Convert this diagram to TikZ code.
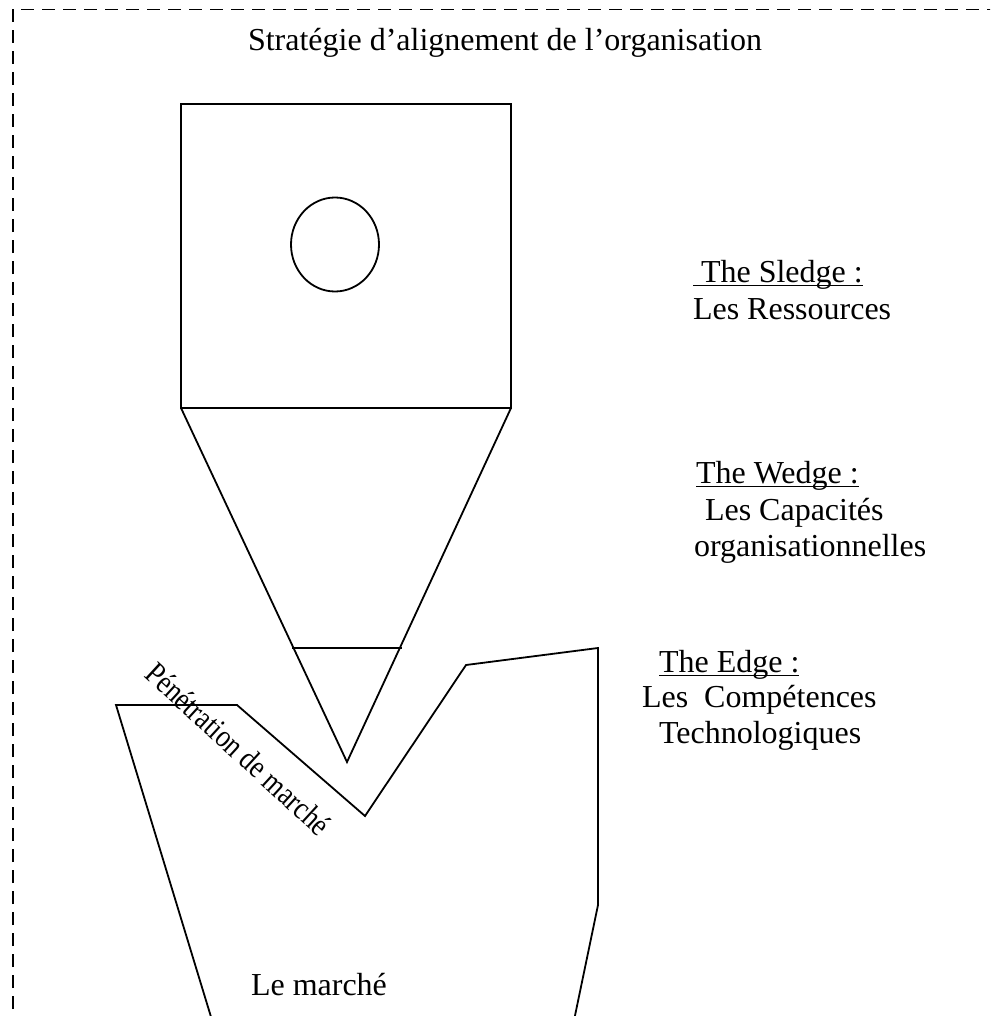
\documentclass[tikz,border=0pt]{standalone}
\usepackage{fontspec}
\setmainfont{Liberation Serif}
\newfontfamily\condensedserif[FakeStretch=0.83]{Liberation Serif}
\tikzset{
  shape line/.style={line width=1.8pt, line join=miter},
  lbl/.style={inner sep=0pt, outer sep=0pt, anchor=base west, font=\fontsize{32}{36}\selectfont},
  uline/.style={line width=1.4pt},
  border/.style={line width=1.8pt, dash pattern=on 13pt off 8pt}
}
\begin{document}
\begin{tikzpicture}[x=1pt, y=-1pt]
\useasboundingbox (0,0) rectangle (990,1016);
\clip (0,0) rectangle (990,1016);
% dashed frame (open at right and bottom)
\draw[border] (12.7,1030) -- (12.7,9.5) -- (1000,9.5);

% title
\node[lbl, anchor=base] (title) at (505,51) {Stratégie d’alignement de l’organisation};

% sledge: square with circle
\coordinate (sqNW) at (181,104);
\coordinate (sqSE) at (511,408);
\coordinate (sqSW) at (181,408);
\draw[shape line] (sqNW) rectangle (sqSE);
\draw[shape line] (335,244.5) ellipse [x radius=44, y radius=47];

% wedge triangle
\coordinate (apex) at (347,762);
\draw[shape line] (sqSW) -- (apex) -- (sqSE);
\coordinate (edgeL) at (292,648);
\coordinate (edgeR) at (402,648);
\draw[shape line] (edgeL) -- (edgeR);

% market polygon
\coordinate (m0) at (215,1030);
\coordinate (m1) at (116,705);
\coordinate (m2) at (237,705);
\coordinate (m3) at (365,816);
\coordinate (m4) at (466,665);
\coordinate (m5) at (598,648);
\coordinate (m6) at (598,905);
\coordinate (m7) at (572,1030);
\draw[shape line] (m0) -- (m1) -- (m2) -- (m3) -- (m4) -- (m5) -- (m6) -- (m7);

% rotated label
\node[inner sep=0pt, anchor=base, rotate=-42.5, font=\condensedserif\fontsize{32}{36}\selectfont] (pen) at (231,757) {Pénétration de marché};

% market label
\node[lbl] (marche) at (251,995) {Le marché};

% right labels
\node[lbl] (sl1) at (693,282) {\ The Sledge :};
\node[lbl] (sl2) at (693,319) {Les Ressources};
\draw[uline] ([yshift=-3.5pt]sl1.base west) -- ([yshift=-3.5pt]sl1.base east);

\node[lbl] (we1) at (696,483) {The Wedge :};
\node[lbl] (we2) at (705,520) {Les Capacités};
\node[lbl] (we3) at (694,556) {organisationnelles};
\draw[uline] ([yshift=-3.5pt]we1.base west) -- ([yshift=-3.5pt]we1.base east);

\node[lbl] (ed1) at (659,672) {The Edge :};
\node[lbl] (ed2) at (642,707) {Les\ \ Compétences};
\node[lbl] (ed3) at (659,743) {Technologiques};
\draw[uline] ([yshift=-3.5pt]ed1.base west) -- ([yshift=-3.5pt]ed1.base east);
\end{tikzpicture}
\end{document}
